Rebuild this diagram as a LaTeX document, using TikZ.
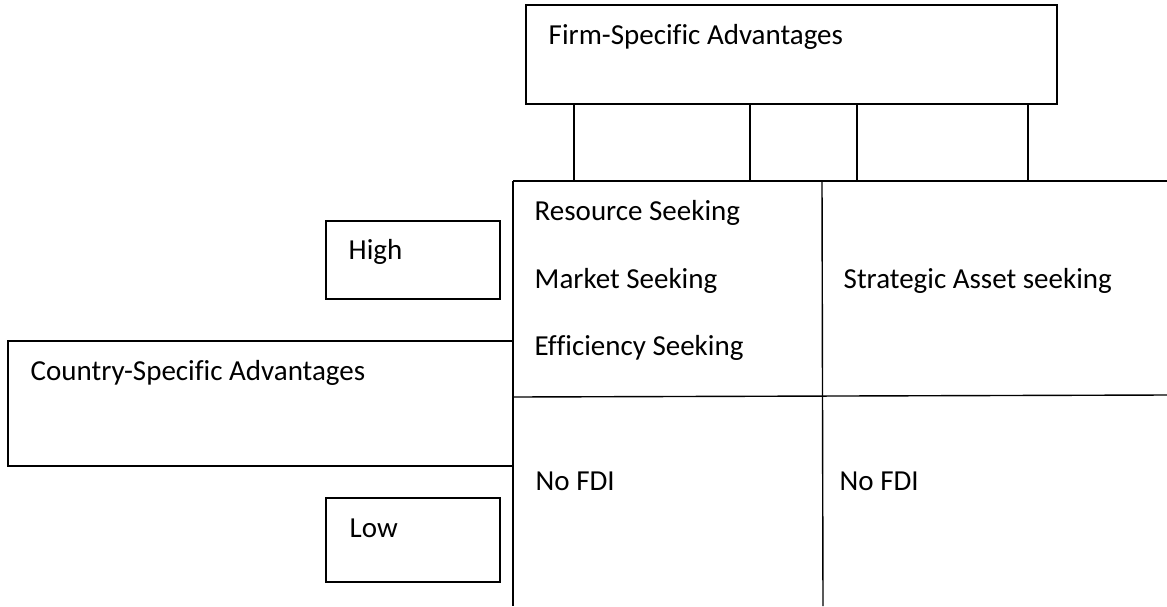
\documentclass[tikz,border=0pt]{standalone}
\usepackage{fontspec}
\setmainfont[Ligatures=NoCommon]{Carlito}
\begin{document}
\begin{tikzpicture}[x=1pt,y=-1pt,
  line width=1.4pt,
  box/.style={draw=black, rectangle, inner sep=0pt, outer sep=0pt},
  lbl/.style={anchor=base west, inner sep=0pt, font=\fontsize{29}{34}\selectfont},
  rule/.style={draw=black, line width=1.4pt}]
\useasboundingbox (0,0) rectangle (1167,606);
% boxes
\node[box, minimum width=531pt, minimum height=99pt] (fsa) at (791.5,54.5) {};
\node[box, minimum width=174pt, minimum height=78pt] (high) at (413,260) {};
\node[box, minimum width=505pt, minimum height=125pt] (csa) at (260.5,403.5) {};
\node[box, minimum width=174pt, minimum height=84pt] (low) at (413,540) {};
% matrix coordinates
\coordinate (mtl) at (513,181);
\coordinate (mtr) at (1167,181);
\coordinate (mbl) at (513,606);
\coordinate (mmt) at (822,181);
\coordinate (mmb) at (823,606);
\coordinate (mhl) at (513,397);
\coordinate (mhr) at (1167,395);
\draw[rule] (mtl) -- (mtr);
\draw[rule] (mtl) -- (mbl);
\draw[rule] (mmt) -- (mmb);
\draw[rule] (mhl) -- (mhr);
% connectors
\coordinate (c1) at (574,181);
\coordinate (c2) at (750,181);
\coordinate (c3) at (857,181);
\coordinate (c4) at (1028,181);
\foreach \c in {c1,c2,c3,c4}{\draw[rule] (fsa.south -| \c) -- (\c);}
% texts
\node[lbl] (tfsa) at (548,44) {Firm-Specific Advantages};
\node[lbl] (thigh) at (348,259) {High};
\node[lbl] (tcsa) at (30,380) {Country-Specific Advantages};
\node[lbl] (tlow) at (349,537) {Low};
\node[lbl] (trs) at (534,220) {Resource Seeking};
\node[lbl] (tms) at (534,288) {Market Seeking};
\node[lbl] (tes) at (534,355) {Efficiency Seeking};
\node[lbl] (tsa) at (843,288) {Strategic Asset seeking};
\node[lbl] (tno1) at (535,490) {No FDI};
\node[lbl] (tno2) at (839,490) {No FDI};
\end{tikzpicture}
\end{document}
